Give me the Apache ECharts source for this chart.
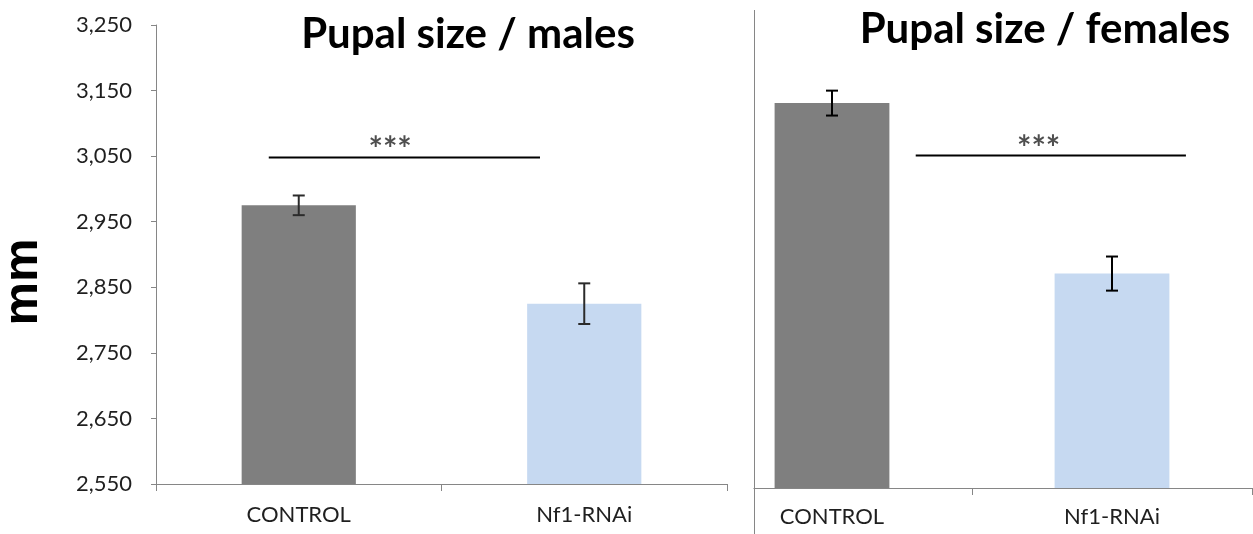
<!DOCTYPE html>
<html>
<head>
<meta charset="utf-8">
<script src="https://cdn.jsdelivr.net/npm/echarts@6/dist/echarts.min.js"></script>
<style>
  html, body { margin: 0; padding: 0; background: #fff; }
  #chart { width: 1253px; height: 534px; }
</style>
</head>
<body>
<div id="chart"></div>
<script>
// Pupal size (mm) of control vs Nf1-RNAi animals, males and females
const categories = ['CONTROL', 'Nf1-RNAi'];

const maleMeans = [2975, 2825];
const maleErrors = [15, 31];

const femaleMeans = [3137, 2877];
const femaleErrors = [19, 26];

// value axis range shared by both panels
const yMin = 2550;
const yMax = 3250;
const yStep = 100;

// significance brackets: x positions in category units (0 = first bar centre)
const maleSigX = [-0.105, 0.845];
const maleSigY = 3048;
const femaleSigX = [0.299, 1.264];
const femaleSigY = 3057;
const sigText = '***';
const maleStar = [0.32, 3060];
const femaleStar = [0.738, 3067];

const titles = ['Pupal size / males', 'Pupal size / females'];
const unitName = 'mm';

const barColors = ['#7f7f7f', '#c6d9f1'];
const axisGrey = '#868686';
const textColor = '#1f1f1f';
const FONT = 'Lato, "Open Sans", sans-serif';

function fmtThousands(v) {
  return String(v).replace(/\B(?=(\d{3})+(?!\d))/g, ',');
}

function errData(means, errs) {
  return means.map((m, i) => [i, m - errs[i], m + errs[i]]);
}

function errRenderer(color, width) {
  return function (params, api) {
    const x = api.value(0);
    const lo = api.coord([x, api.value(1)]);
    const hi = api.coord([x, api.value(2)]);
    const cap = 6;
    const style = { stroke: color, lineWidth: width };
    return {
      type: 'group',
      children: [
        { type: 'line', shape: { x1: hi[0], y1: hi[1], x2: lo[0], y2: lo[1] }, style },
        { type: 'line', shape: { x1: hi[0] - cap, y1: hi[1], x2: hi[0] + cap, y2: hi[1] }, style },
        { type: 'line', shape: { x1: lo[0] - cap, y1: lo[1], x2: lo[0] + cap, y2: lo[1] }, style }
      ]
    };
  };
}

function barData(means) {
  return means.map((v, i) => ({ value: v, itemStyle: { color: barColors[i] } }));
}

const catAxisBase = {
  type: 'category',
  data: categories,
  axisLine: { onZero: false, lineStyle: { color: axisGrey, width: 1 } },
  axisTick: { show: true, length: 7, lineStyle: { color: axisGrey } },
  axisLabel: { color: textColor, fontFamily: FONT, fontSize: 22 },
  splitLine: { show: false }
};

const chart = echarts.init(document.getElementById('chart'), null, { renderer: 'canvas' });

chart.setOption({
  animation: false,
  backgroundColor: '#ffffff',
  grid: [
    { left: 156, top: 25, width: 571, height: 459 },
    { left: 692, top: 29, width: 560, height: 459 }
  ],
  xAxis: [
    Object.assign({}, catAxisBase, { gridIndex: 0, z: 10,
      axisLabel: Object.assign({}, catAxisBase.axisLabel, { margin: 20 }) }),
    Object.assign({}, catAxisBase, { gridIndex: 1, z: 0,
      axisLabel: Object.assign({}, catAxisBase.axisLabel, { margin: 18 }) }),
    { type: 'value', gridIndex: 0, min: -0.5, max: 1.5, show: false,
      axisLine: { show: false, onZero: false }, splitLine: { show: false } },
    { type: 'value', gridIndex: 1, min: -0.5, max: 1.5, show: false,
      axisLine: { show: false, onZero: false }, splitLine: { show: false } }
  ],
  yAxis: [
    {
      type: 'value', gridIndex: 0, min: yMin, max: yMax, interval: yStep,
      axisLine: { show: true, onZero: false, lineStyle: { color: axisGrey, width: 1 } },
      axisTick: { show: true, length: 5, lineStyle: { color: axisGrey } },
      axisLabel: { color: textColor, fontFamily: FONT, fontSize: 22, margin: 24, formatter: fmtThousands },
      splitLine: { show: false }
    },
    {
      type: 'value', gridIndex: 1, min: yMin, max: yMax, interval: yStep,
      axisLine: { show: false, onZero: false }, axisTick: { show: false }, axisLabel: { show: false },
      splitLine: { show: false }
    }
  ],
  series: [
    { type: 'bar', name: 'males', xAxisIndex: 0, yAxisIndex: 0, barWidth: '40%',
      data: barData(maleMeans), z: 2 },
    { type: 'bar', name: 'females', xAxisIndex: 1, yAxisIndex: 1, barWidth: '41%',
      data: barData(femaleMeans), z: 2 },
    { type: 'custom', xAxisIndex: 0, yAxisIndex: 0, z: 4,
      renderItem: errRenderer('#2b2b2b', 2), data: errData(maleMeans, maleErrors) },
    { type: 'custom', xAxisIndex: 1, yAxisIndex: 1, z: 4,
      renderItem: errRenderer('#000000', 2), data: errData(femaleMeans, femaleErrors) },
    { type: 'line', xAxisIndex: 2, yAxisIndex: 0, symbol: 'none', z: 4,
      lineStyle: { color: '#000', width: 2 },
      data: maleSigX.map(x => [x, maleSigY]) },
    { type: 'line', xAxisIndex: 3, yAxisIndex: 1, symbol: 'none', z: 4,
      lineStyle: { color: '#000', width: 2 },
      data: femaleSigX.map(x => [x, femaleSigY]) },
    { type: 'scatter', xAxisIndex: 2, yAxisIndex: 0, symbolSize: 0, z: 4,
      label: { show: true, position: 'inside', formatter: sigText, color: '#222',
               fontFamily: FONT, fontWeight: 'bold', fontSize: 34 },
      data: [maleStar] },
    { type: 'scatter', xAxisIndex: 3, yAxisIndex: 1, symbolSize: 0, z: 4,
      label: { show: true, position: 'inside', formatter: sigText, color: '#222',
               fontFamily: FONT, fontWeight: 'bold', fontSize: 34 },
      data: [femaleStar] }
  ],
  graphic: [
    // mask the part of the right panel's baseline that sits left of the divider
    { type: 'rect', z: 5, silent: true,
      shape: { x: 686, y: 486, width: 67.5, height: 12 },
      style: { fill: '#ffffff' } },
    // panel divider
    { type: 'line', z: 6, silent: true,
      shape: { x1: 754.5, y1: 10, x2: 754.5, y2: 534 },
      style: { stroke: axisGrey, lineWidth: 1 } },
    { type: 'text', z: 6, x: 468, y: 34,
      style: { text: titles[0], font: 'bold 42px ' + FONT, fill: '#000',
               textAlign: 'center', textVerticalAlign: 'middle' } },
    { type: 'text', z: 6, x: 1045, y: 29,
      style: { text: titles[1], font: 'bold 42px ' + FONT, fill: '#000',
               textAlign: 'center', textVerticalAlign: 'middle' } },
    // unit label of the value axis
    { type: 'text', z: 6, x: 23, y: 282, rotation: Math.PI / 2,
      style: { text: unitName, font: 'bold 49px "Liberation Sans", Arial, sans-serif', fill: '#000',
               textAlign: 'center', textVerticalAlign: 'middle' } }
  ]
});
</script>
</body>
</html>
